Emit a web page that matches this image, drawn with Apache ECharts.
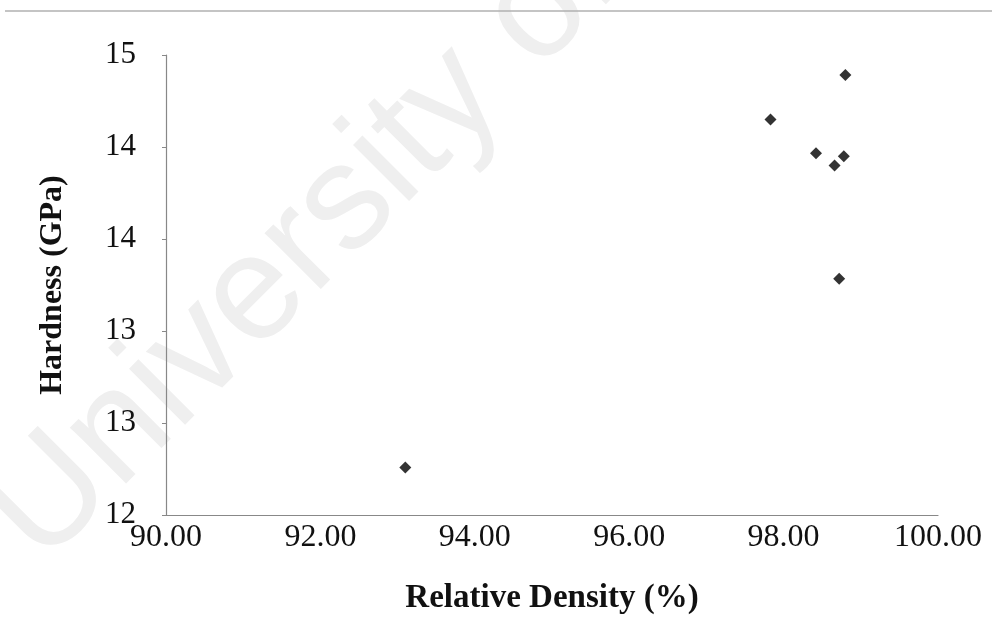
<!DOCTYPE html>
<html>
<head>
<meta charset="utf-8">
<script src="https://cdn.jsdelivr.net/npm/echarts@6/dist/echarts.min.js"></script>
<style>html,body{margin:0;padding:0;background:#fff;}#c{width:992px;height:622px;}</style>
</head>
<body>
<div id="c"></div>
<script>
const relativeDensity = [93.10, 98.80, 97.83, 98.42, 98.78, 98.66, 98.72];
const hardness = [12.31, 14.87, 14.58, 14.36, 14.34, 14.28, 13.54];
const xTitle = 'Relative Density (%)';
const yTitle = 'Hardness (GPa)';

const chart = echarts.init(document.getElementById('c'));
const serif = '"Liberation Serif", "Times New Roman", serif';
chart.setOption({
  backgroundColor: '#fff',
  animation: false,
  graphic: [
    { type: 'line', shape: { x1: 5, y1: 11, x2: 992, y2: 11 }, style: { stroke: '#b0b0b0', lineWidth: 1.5 }, z: 0 },
    { type: 'text', x: -40, y: 485, rotation: 0.785, z: -1,
      style: { text: 'University of Malaya', font: '150px "Liberation Sans", sans-serif', fill: '#efefef' } }
  ],
  grid: { left: 166, right: 54, top: 55, bottom: 107 },
  xAxis: {
    type: 'value', min: 90, max: 100, interval: 2,
    name: xTitle, nameLocation: 'middle', nameGap: 67,
    nameTextStyle: { fontFamily: serif, fontSize: 33, fontWeight: 'bold', color: '#111' },
    axisLine: { show: true, lineStyle: { color: '#888', width: 1.2 } },
    axisTick: { show: false },
    splitLine: { show: false },
    axisLabel: { fontFamily: serif, fontSize: 32, color: '#111', margin: 7,
      formatter: v => v.toFixed(2) }
  },
  yAxis: {
    type: 'value', min: 12, max: 15, interval: 0.6,
    name: yTitle, nameLocation: 'middle', nameGap: 97,
    nameTextStyle: { fontFamily: serif, fontSize: 32, fontWeight: 'bold', color: '#111' },
    axisLine: { show: true, lineStyle: { color: '#888', width: 1.2 } },
    axisTick: { show: true, length: 4, lineStyle: { color: '#888' } },
    splitLine: { show: false },
    axisLabel: { fontFamily: serif, fontSize: 31, color: '#111', margin: 30,
      formatter: v => String(Math.round(v)) }
  },
  series: [{
    type: 'scatter',
    symbol: 'diamond', symbolSize: 12,
    itemStyle: { color: '#000' },
    data: relativeDensity.map((x, i) => [x, hardness[i]])
  }]
});
</script>
</body>
</html>
